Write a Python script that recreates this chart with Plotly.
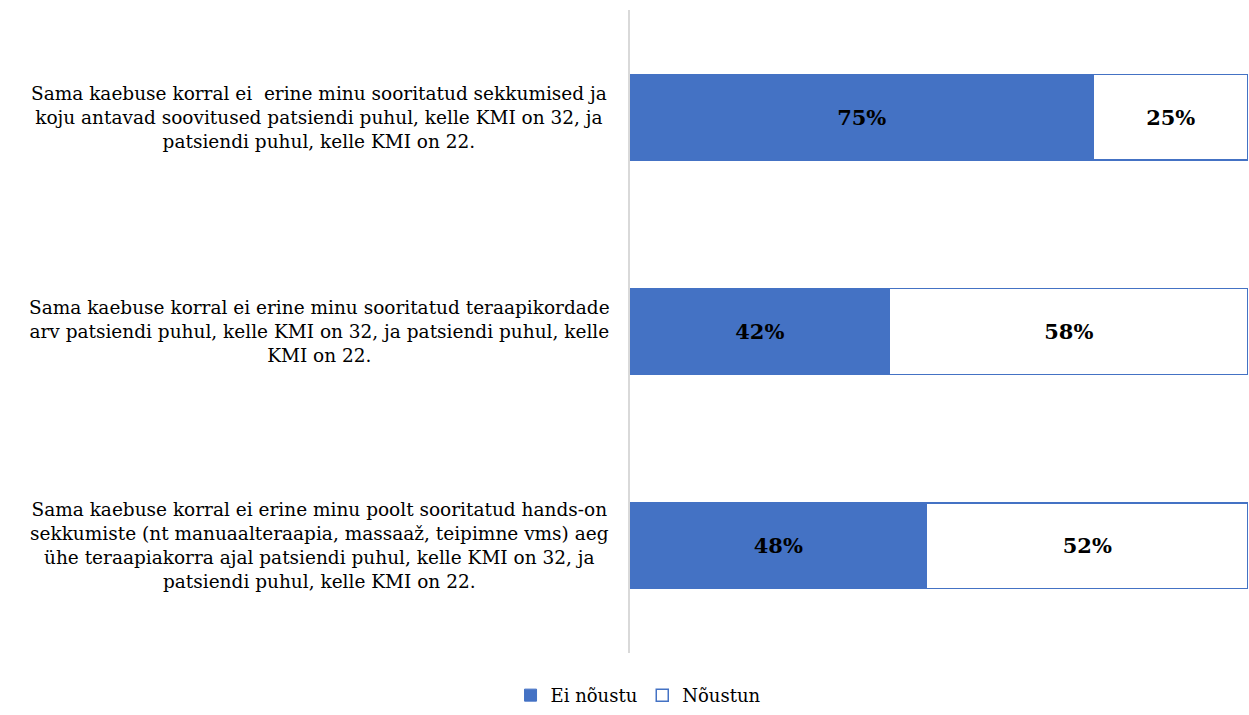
import plotly.graph_objects as go

categories = [
    "Sama kaebuse korral ei  erine minu sooritatud sekkumised ja<br>koju antavad soovitused patsiendi puhul, kelle KMI on 32, ja<br>patsiendi puhul, kelle KMI on 22.",
    "Sama kaebuse korral ei erine minu sooritatud teraapikordade<br>arv patsiendi puhul, kelle KMI on 32, ja patsiendi puhul, kelle<br>KMI on 22.",
    "Sama kaebuse korral ei erine minu poolt sooritatud hands-on<br>sekkumiste (nt manuaalteraapia, massaaž, teipimne vms) aeg<br>ühe teraapiakorra ajal patsiendi puhul, kelle KMI on 32, ja<br>patsiendi puhul, kelle KMI on 22.",
]
cat_ids = ["c1", "c2", "c3"]
ei_noustu = [0.75, 0.42, 0.48]
noustun = [0.25, 0.58, 0.52]

BLUE = "#4472C4"
FONT = "DejaVu Serif"

fig = go.Figure()
fig.add_trace(go.Bar(
    y=cat_ids, x=ei_noustu, orientation="h", name="Ei nõustu",
    marker=dict(color=BLUE, line=dict(color=BLUE, width=1)),
    text=[f"{v:.0%}" for v in ei_noustu], textposition="inside",
    insidetextanchor="middle",
    textfont=dict(family=FONT, size=21, color="black", weight="bold"),
    width=0.4,
))
fig.add_trace(go.Bar(
    y=cat_ids, x=noustun, orientation="h", name="Nõustun",
    marker=dict(color="white", line=dict(color=BLUE, width=1.5)),
    text=[f"{v:.0%}" for v in noustun], textposition="inside",
    insidetextanchor="middle",
    textfont=dict(family=FONT, size=21, color="black", weight="bold"),
    width=0.4,
))

for cid, label in zip(cat_ids, categories):
    fig.add_annotation(
        x=-0.503, xref="paper", y=cid, yref="y", text=label,
        showarrow=False, align="center", xanchor="center", yanchor="middle",
        font=dict(family=FONT, size=18.5, color="black"),
    )

fig.update_layout(
    barmode="stack",
    width=1249, height=715,
    margin=dict(l=630, r=1, t=10, b=60),
    paper_bgcolor="white", plot_bgcolor="white",
    showlegend=True,
    legend=dict(orientation="h", x=0.013, xanchor="center", y=-0.066, yanchor="middle",
                font=dict(family=FONT, size=18, color="black"),
                traceorder="normal", itemwidth=30),
    xaxis=dict(range=[0, 1], visible=False, fixedrange=True),
    yaxis=dict(autorange="reversed", showticklabels=False, showline=True,
               linecolor="#d9d9d9", linewidth=2, ticks="", showgrid=False),
    font=dict(family=FONT),
)

fig.write_html(
    "out.html",
    config={"displayModeBar": False},
    post_script="document.body.style.margin='0';document.documentElement.style.overflow='hidden';",
)
